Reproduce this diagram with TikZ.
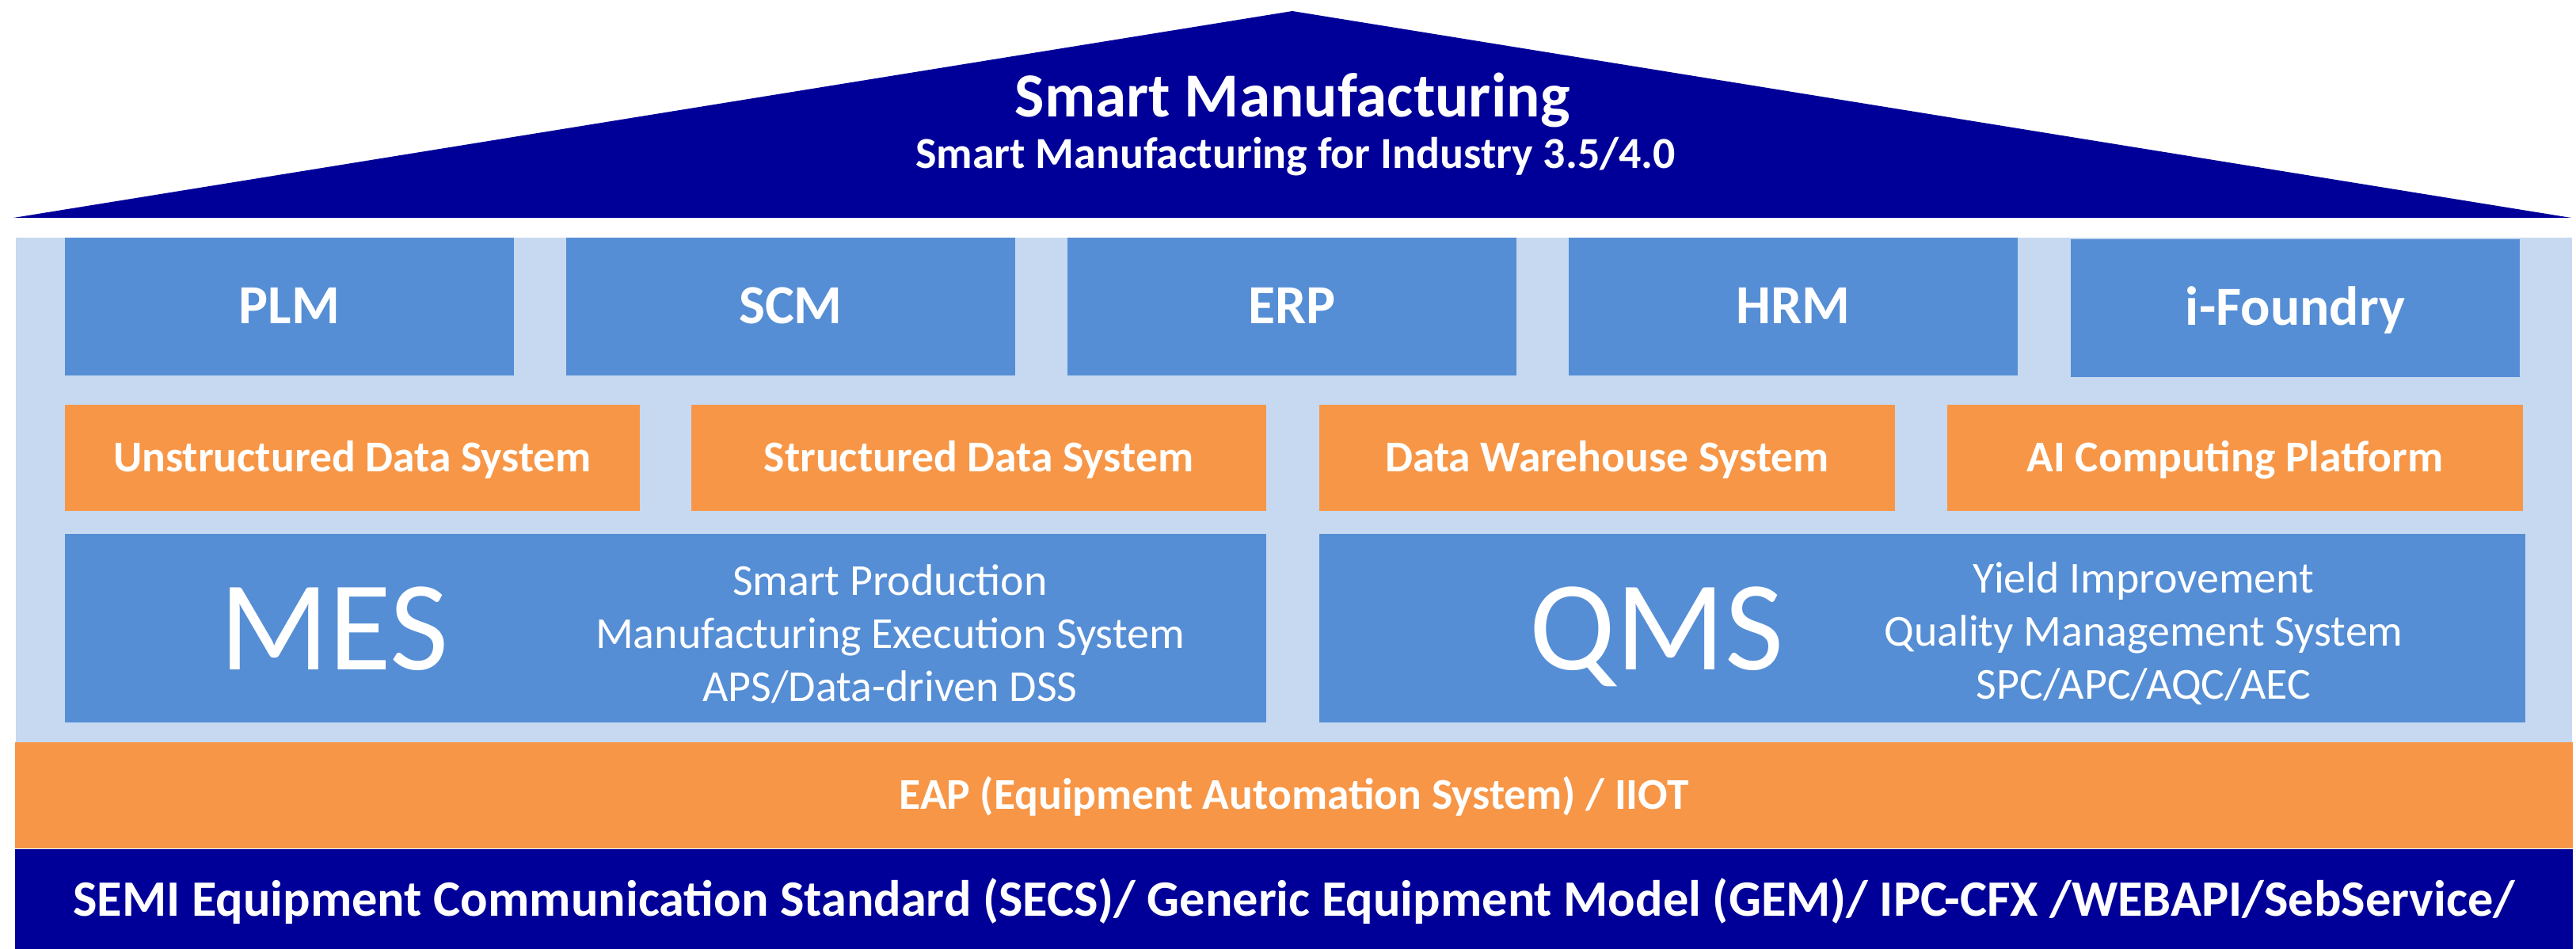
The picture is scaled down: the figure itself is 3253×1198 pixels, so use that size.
\documentclass[tikz,border=0pt]{standalone}
\usepackage{fontspec}
\setmainfont{Carlito}
\definecolor{roofblue}{RGB}{0,0,153}
\definecolor{tileblue}{RGB}{85,142,213}
\definecolor{wallblue}{RGB}{198,217,241}
\definecolor{tileorange}{RGB}{247,150,70}

\begin{document}
\begin{tikzpicture}[x=0.01cm,y=-0.01cm,
  box/.style={inner sep=0pt,text=white,text depth=0pt},
  tile/.style={box,fill=tileblue,minimum width=5.67cm,minimum height=1.74cm,text height=12.5pt,font=\bfseries\fontsize{19.8}{24}\selectfont},
  datatile/.style={box,fill=tileorange,minimum width=7.26cm,minimum height=1.34cm,text height=10pt,font=\bfseries\fontsize{15.8}{19}\selectfont},
  apptile/.style={box,fill=tileblue,minimum height=2.38cm},
  bigname/.style={box,text height=29pt,font=\fontsize{45.9}{55}\selectfont},
  blurb/.style={text=white,inner sep=0pt,align=center,font=\fontsize{15.9}{19.1}\selectfont}]
\useasboundingbox (0,0) rectangle (3253,1198);

% roof
\fill[roofblue] (17,275) -- (1632,14) -- (3247,275) -- cycle;
\node[text=white,anchor=base,font=\bfseries\fontsize{22.5}{27}\selectfont] (title) at (1632,148) {Smart Manufacturing};
\node[text=white,anchor=base,font=\bfseries\fontsize{15.9}{19}\selectfont] (subtitle) at (1636,213) {Smart Manufacturing for Industry 3.5/4.0};

% wall behind the tiles
\fill[wallblue] (20,300) rectangle (3248,937);

% business systems
\node[tile] (plm) at (365.5,387) {PLM};
\node[tile] (scm) at (998.5,387) {SCM};
\node[tile] (erp) at (1631.5,387) {ERP};
\node[tile] (hrm) at (2264.5,387) {HRM};
\node[tile] (ifoundry) at (2898.5,389) {i-Foundry};

% data layer
\node[datatile] (uds) at (445,578) {Unstructured Data System};
\node[datatile] (sds) at (1236,578) {Structured Data System};
\node[datatile] (dws) at (2029.5,578) {Data Warehouse System};
\node[datatile] (aicp) at (2822.5,578) {AI Computing Platform};

% MES / QMS
\node[apptile,minimum width=15.17cm] (mes) at (840.5,793) {};
\node[bigname] (mesname) at (422,795) {MES};
\node[blurb] (mestext) at (1124,800) {Smart Production\\Manufacturing Execution System\\APS/Data-driven DSS};

\node[apptile,minimum width=15.23cm] (qms) at (2427.5,793) {};
\node[bigname] (qmsname) at (2092,795) {QMS};
\node[blurb] (qmstext) at (2707,800) {Yield Improvement\\Quality Management System\\SPC/APC/AQC/AEC};

% foundation
\node[box,fill=tileorange,minimum width=32.28cm,minimum height=1.34cm,text height=10pt,font=\bfseries\fontsize{15.8}{19}\selectfont] (eap) at (1634,1004) {EAP (Equipment Automation System) / IIOT};
\node[box,fill=roofblue,minimum width=32.28cm,minimum height=1.27cm,text height=11.6pt,font=\bfseries\fontsize{18.3}{22}\selectfont] (secs) at (1634,1136) {SEMI Equipment Communication Standard (SECS)/ Generic Equipment Model (GEM)/ IPC-CFX /WEBAPI/SebService/};
\end{tikzpicture}
\end{document}
